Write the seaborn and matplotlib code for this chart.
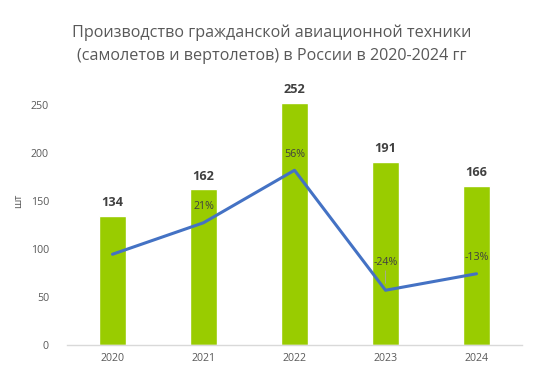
import numpy as np
import matplotlib
matplotlib.use("Agg")
import matplotlib.pyplot as plt
import seaborn as sns

years = ["2020", "2021", "2022", "2023", "2024"]
production = [134, 162, 252, 191, 166]
growth = [0, 21, 56, -24, -13]
growth_labels = ["", "21%", "56%", "-24%", "-13%"]
yticks = [0, 50, 100, 150, 200, 250]

sns.set_theme(style="white")
plt.rcParams["font.family"] = ["Open Sans", "DejaVu Sans"]

W, H = 544, 386
fig = plt.figure(figsize=(W / 100, H / 100), dpi=100)
left, right, bottom, top_px = 67, 522, 345, 57
ax = fig.add_axes([left / W, (H - bottom) / H, (right - left) / W, (bottom - top_px) / H])

sns.barplot(x=years, y=production, color="#99CC00", saturation=1, width=0.3, ax=ax)
ax.set_xlim(-0.5, 4.5)
ax.set_ylim(0, 300)
ax.set_yticks(yticks)
ax.set_yticklabels([str(t) for t in yticks])
ax.tick_params(axis="y", length=0, pad=13, labelsize=7.7, labelcolor="#595959")
ax.tick_params(axis="x", length=0, pad=6, labelsize=7.7, labelcolor="#595959")
for s in ["top", "right", "left"]:
    ax.spines[s].set_visible(False)
ax.spines["bottom"].set_color("#D9D9D9")
ax.spines["bottom"].set_linewidth(1)
ax.set_xlabel("")
ax.set_ylabel("шт", fontsize=7.7, color="#595959")
ax.yaxis.set_label_coords(-0.094, 0.5)
ax.grid(False)

for i, v in enumerate(production):
    ax.annotate(str(v), (i, v), xytext=(0, 5), textcoords="offset points",
                ha="center", va="bottom", fontsize=9.2, fontweight="bold",
                color="#404040", annotation_clip=False)

ax2 = ax.twinx()
x_pos = np.arange(len(years))
sns.lineplot(x=x_pos, y=growth, ax=ax2, color="#4472C4", linewidth=2.2)
ax2.set_ylim(-60.5, 131.5)
ax2.set_yticks([])
ax2.set_ylabel("")
for s in ["top", "right", "left", "bottom"]:
    ax2.spines[s].set_visible(False)
ax2.grid(False)

offsets = [0, 12, 11.5, 20, 11.5]
for i, (g, lab) in enumerate(zip(growth, growth_labels)):
    if not lab:
        continue
    ax2.annotate(lab, (i, g), xytext=(0, offsets[i]), textcoords="offset points",
                 ha="center", va="center", fontsize=7.7, color="#404040")
# leader line for -24%
ax2.annotate("", (3, -24), xytext=(0, 14), textcoords="offset points",
             arrowprops=dict(arrowstyle="-", color="#A6A6A6", lw=0.6, shrinkA=0, shrinkB=5))

fig.text(0.5, 1 - 44.5 / H,
         "Производство гражданской авиационной техники\n(самолетов и вертолетов) в России в 2020-2024 гг",
         ha="center", va="center", fontsize=11.6, color="#595959", linespacing=1.6)

fig.savefig("out.png", dpi=100)
